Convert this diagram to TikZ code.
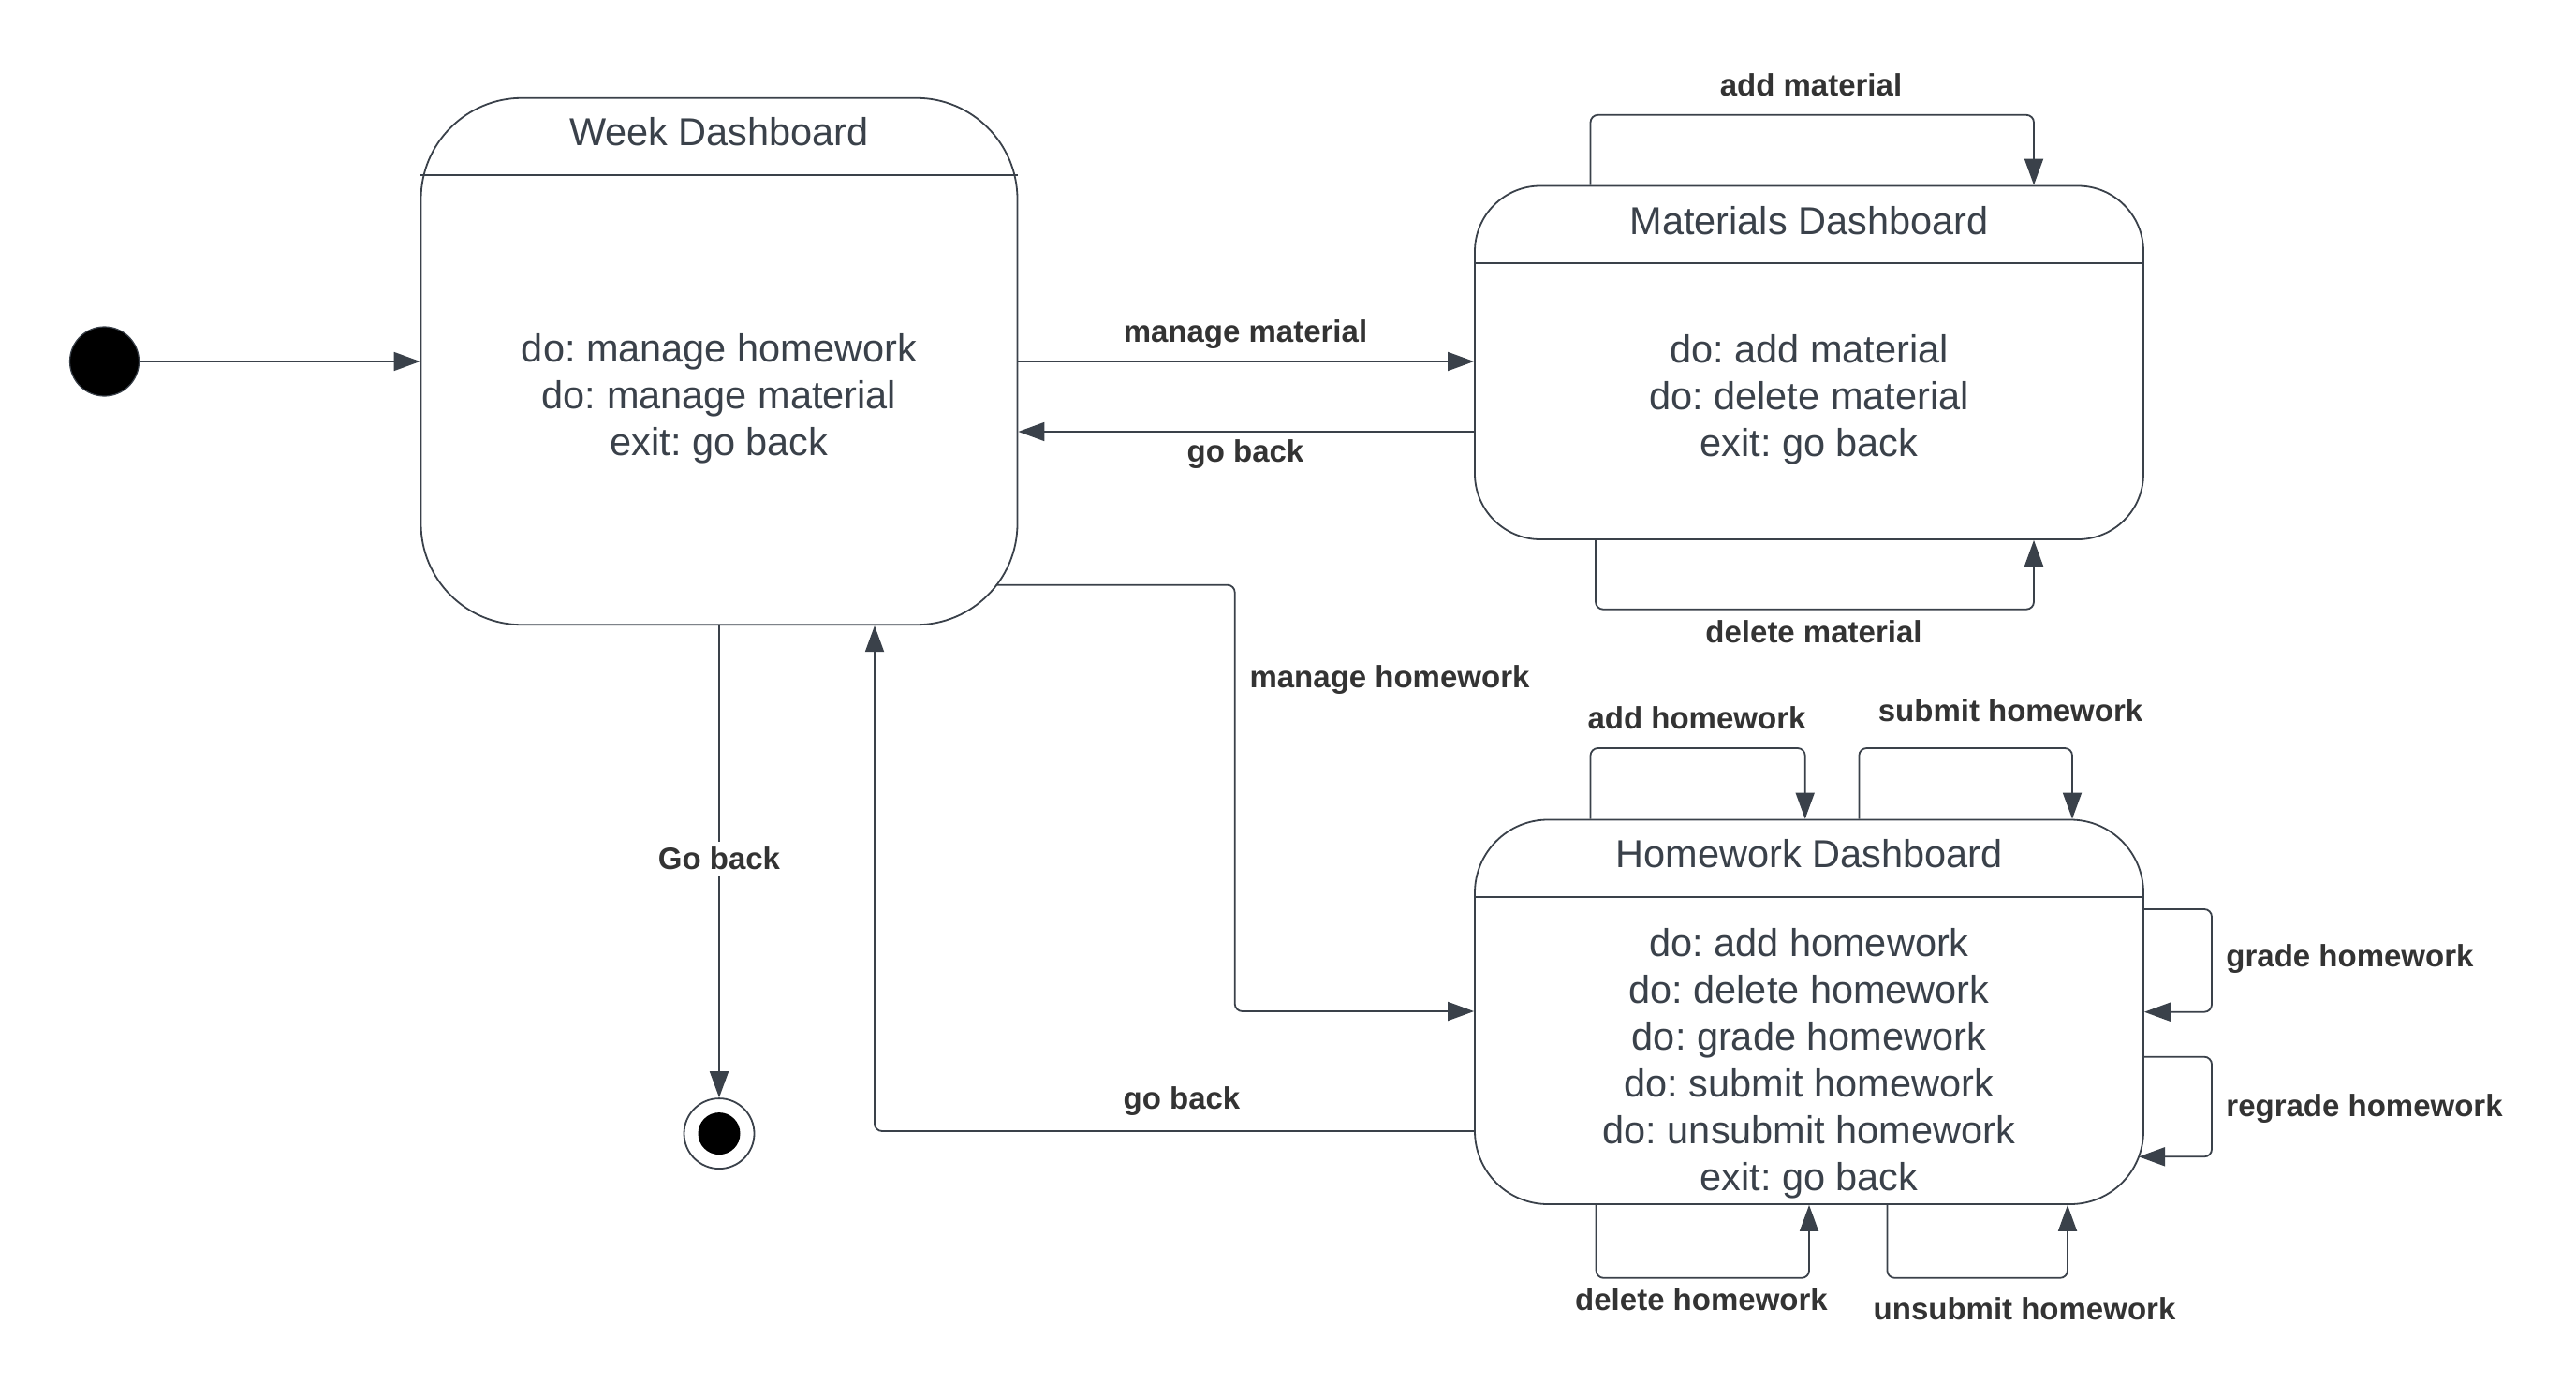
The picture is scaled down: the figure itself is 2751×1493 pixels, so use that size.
\documentclass[tikz,border=0pt]{standalone}
\usepackage{fontspec}
\setmainfont{Liberation Sans}
\usetikzlibrary{arrows.meta}
\definecolor{lncol}{HTML}{3A414A}
\definecolor{lblcol}{HTML}{333333}
\frenchspacing
\begin{document}
\begin{tikzpicture}[x=0.5pt,y=-0.5pt,
  statebox/.style={draw=lncol, line width=0.9pt, rectangle, inner sep=0pt, fill=white},
  ttl/.style={text=lncol, font=\fontsize{20.75}{25}\selectfont, inner sep=0pt},
  bodytxt/.style={text=lncol, font=\fontsize{20.75}{25}\selectfont, align=center, inner sep=0pt},
  lab/.style={text=lblcol, font=\fontsize{16.5}{20}\selectfont\bfseries, inner sep=1pt},
  arr/.style={draw=lncol, line width=0.9pt, rounded corners=4pt, -{Triangle[length=14pt,width=10pt]}},
  divline/.style={draw=lncol, line width=0.9pt}]
\useasboundingbox (0,0) rectangle (2751,1493);

% states
\node[statebox, minimum width=318.5pt, minimum height=281.25pt, rounded corners=54pt] (wk) at (768,386) {};
\node[statebox, minimum width=357pt, minimum height=188.75pt, rounded corners=35pt] (mat) at (1932,387.25) {};
\node[statebox, minimum width=357pt, minimum height=205.25pt, rounded corners=39pt] (hw) at (1932,1080.75) {};

% dividers
\coordinate (wkd) at (768,186.7);
\coordinate (matd) at (1932,281);
\coordinate (hwd) at (1932,958);
\draw[divline] (wkd -| wk.west) -- (wkd -| wk.east);
\draw[divline] (matd -| mat.west) -- (matd -| mat.east);
\draw[divline] (hwd -| hw.west) -- (hwd -| hw.east);

% titles and bodies
\node[ttl] (wkt) at (768,141) {Week Dashboard};
\node[ttl] (matt) at (1932,236) {Materials Dashboard};
\node[ttl] (hwt) at (1932,912) {Homework Dashboard};
\node[bodytxt] (wkb) at (768,426) {do: manage homework\\do: manage material\\exit: go back};
\node[bodytxt] (matb) at (1932,427) {do: add material\\do: delete material\\exit: go back};
\node[bodytxt] (hwb) at (1932,1136) {do: add homework\\do: delete homework\\do: grade homework\\do: submit homework\\do: unsubmit homework\\exit: go back};

% initial and final states
\node[circle, fill=black, draw=lncol, line width=0.6pt, minimum size=37pt, inner sep=0pt] (init) at (111.5,386) {};
\node[circle, draw=lncol, line width=0.9pt, fill=white, minimum size=37.5pt, inner sep=0pt] (fin) at (768,1210.6) {};
\node[circle, fill=black, minimum size=22.5pt, inner sep=0pt] (finin) at (fin.center) {};

% initial -> week
\draw[arr] (init) -- (wk.west);

% week <-> materials
\draw[arr] (wk.east) -- (wk.east -| mat.west);
\coordinate (gbm) at (1400,461);
\draw[arr] (gbm -| mat.west) -- (gbm -| wk.east);
\node[lab] (lmm) at (1330,357) {manage material};
\node[lab] (lgbm) at (1330,485) {go back};

% materials self loops
\coordinate (amL) at (1698.5,122.8);
\coordinate (amR) at (2172,122.8);
\draw[arr] (amL |- mat.north) -- (amL) -- (amR) -- (amR |- mat.north);
\node[lab] (lam) at (1934,91) {add material};
\coordinate (dmL) at (1704,650.7);
\coordinate (dmR) at (2172,650.7);
\draw[arr] (dmL |- mat.south) -- (dmL) -- (dmR) -- (dmR |- mat.south);
\node[lab] (ldm) at (1937,675) {delete material};

% week -> homework
\coordinate (mhS) at (1063.5,624.7);
\coordinate (mh1) at (1318.7,624.7);
\coordinate (mh2) at (1318.7,1080);
\draw[arr] (mhS) -- (mh1) -- (mh2) -- (mh2 -| hw.west);
\node[lab] (lmh) at (1484,726) {manage homework};

% homework -> week
\coordinate (gbh) at (934,1208);
\draw[arr] (gbh -| hw.west) -- (gbh) -- (gbh |- wk.south);
\node[lab] (lgbh) at (1262,1176) {go back};

% week -> final
\draw[arr] (wk.south) -- (fin.north);
\node[lab, fill=white, inner sep=3pt] (lgb) at (768,917) {Go back};

% homework self loops
\coordinate (ahL) at (1698.5,799);
\coordinate (ahR) at (1927.7,799);
\draw[arr] (ahL |- hw.north) -- (ahL) -- (ahR) -- (ahR |- hw.north);
\node[lab] (lah) at (1812,767) {add homework};
\coordinate (shL) at (1985.4,799);
\coordinate (shR) at (2213,799);
\draw[arr] (shL |- hw.north) -- (shL) -- (shR) -- (shR |- hw.north);
\node[lab] (lsh) at (2147,759) {submit homework};

\coordinate (grT) at (2362,971);
\coordinate (grB) at (2362,1080.7);
\draw[arr] (grT -| hw.east) -- (grT) -- (grB) -- (grB -| hw.east);
\node[lab, anchor=west] (lgr) at (2375,1024) {grade homework};
\coordinate (rgT) at (2362,1128.7);
\coordinate (rgB) at (2362,1235.3);
\coordinate (rgTip) at (2284,1235.3);
\draw[arr] (rgT -| hw.east) -- (rgT) -- (rgB) -- (rgTip);
\node[lab, anchor=west] (lrg) at (2375,1184) {regrade homework};

\coordinate (dhL) at (1704.6,1364.8);
\coordinate (dhR) at (1932,1364.8);
\draw[arr] (dhL |- hw.south) -- (dhL) -- (dhR) -- (dhR |- hw.south);
\node[lab] (ldh) at (1817,1388) {delete homework};
\coordinate (uhL) at (2015.4,1364.8);
\coordinate (uhR) at (2208,1364.8);
\draw[arr] (uhL |- hw.south) -- (uhL) -- (uhR) -- (uhR |- hw.south);
\node[lab] (luh) at (2162,1398) {unsubmit homework};
\end{tikzpicture}
\end{document}
